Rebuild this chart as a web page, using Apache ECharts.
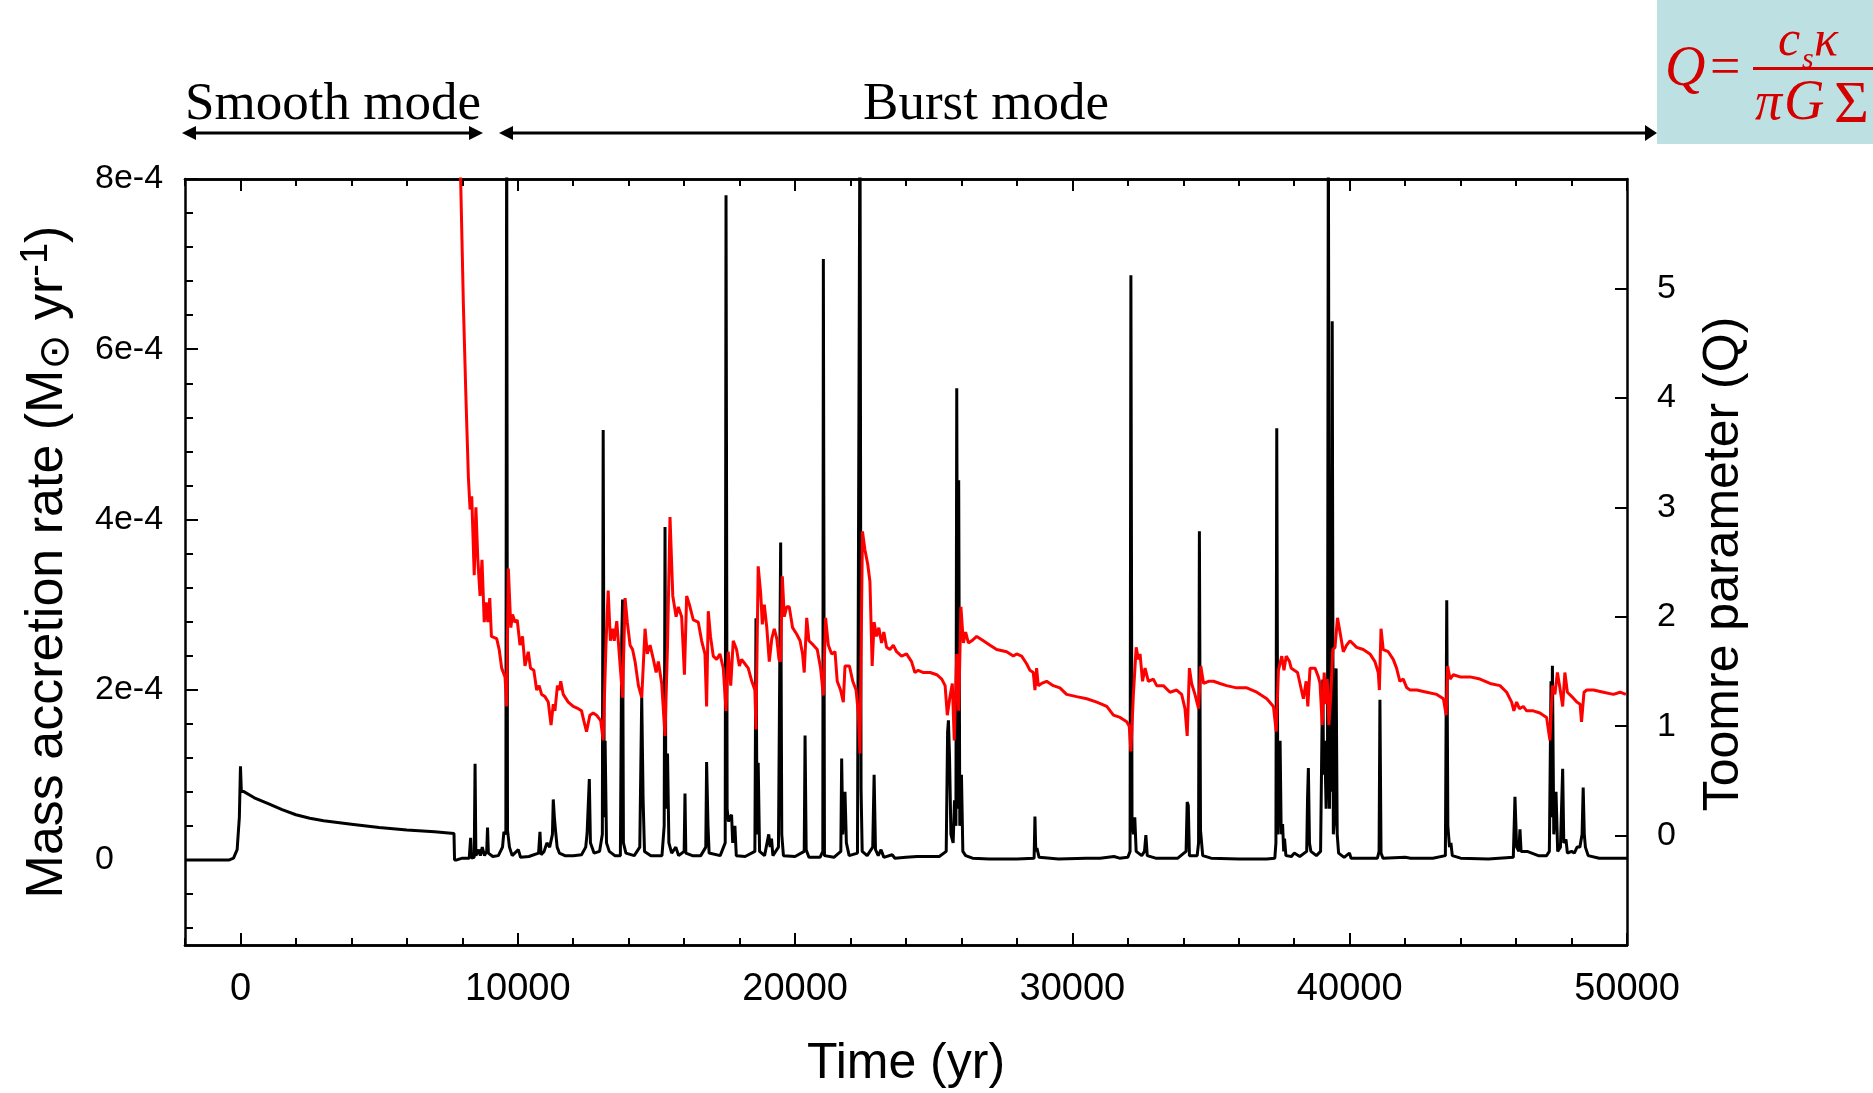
<!DOCTYPE html>
<html>
<head>
<meta charset="utf-8">
<script src="https://cdn.jsdelivr.net/npm/echarts@6/dist/echarts.min.js"></script>
<style>
html,body{margin:0;padding:0;background:#fff;}
#c{width:1873px;height:1093px;}
</style>
</head>
<body>
<div id="c"></div>
<script>
// ---- DATA ----
// Time in years; mass accretion rate in units of 1e-4 Msun/yr
const smoothTime = [-2000, -400, -250, -120, -40, 0, 30, 100, 500, 1000, 1500, 2000, 2500, 3000, 4000, 5000, 6000, 7000, 7700];
const smoothRate = [0, 0, 0.02, 0.12, 0.5, 1.1, 0.82, 0.8, 0.73, 0.66, 0.59, 0.53, 0.49, 0.46, 0.42, 0.38, 0.35, 0.33, 0.31];

const burstTime = [7720,7800,8000,8250,8300,8330,8430,8460,8490,8600,8650,8720,8800,8880,8910,8940,9100,9300,9450,9500,9570,9600,9630,9700,9800,
10020,10100,10400,10750,10800,10840,10950,11050,11150,11250,11280,11320,11360,11420,11500,11700,12000,12300,12450,12500,12580,12620,12750,12950,
13050,13080,13120,13150,13200,13300,13500,13700,13750,13780,13810,13900,14200,14400,14470,14520,14570,14800,15200,15280,15310,15340,15400,
15450,15550,15700,15800,16000,16030,16060,16300,16600,16780,16810,16860,16900,17300,17480,17510,17550,17600,17650,17710,17750,17830,17880,
18200,18550,18590,18630,18670,18720,18900,19050,19100,19150,19200,19400,19480,19520,19580,20000,20330,20360,20400,20500,20900,21000,21020,
21060,21400,21650,21680,21720,21800,21850,21950,22250,22340,22380,22420,22600,22800,22850,22900,23000,23100,23200,23500,23600,24000,24400,
25200,25450,25500,25530,25570,25620,25700,25750,25800,25830,25870,25900,25940,26000,26050,26150,26400,27000,28000,28620,28650,28680,28720,
28800,29500,30500,31000,31500,31700,32000,32080,32110,32150,32200,32250,32300,32500,32600,32650,32700,33000,33800,34100,34140,34180,34220,
34500,34550,34580,34620,34700,35000,36000,37000,37300,37340,37370,37410,37490,37530,37580,37620,37650,37700,37900,38000,38200,38450,38480,
38510,38550,38600,38800,38950,39000,39030,39060,39100,39150,39200,39230,39270,39300,39340,39370,39410,39460,39510,39550,39600,39800,39990,
40050,40500,41000,41060,41090,41130,41200,42000,42200,43000,43450,43500,43540,43600,43650,43700,44000,45000,45900,45960,46020,46100,46140,
46180,46400,46800,47100,47200,47260,47280,47310,47360,47440,47500,47600,47680,47720,47800,47850,48000,48100,48200,48300,48380,48420,48460,
48500,48600,49000,50000];
const burstRate = [0,0,0.02,0.02,0.26,0.02,0.03,1.13,0.05,0.12,0.05,0.15,0.05,0.1,0.38,0.08,0.04,0.05,0.15,0.33,0.3,9,0.35,0.15,0.05,
0.12,0.03,0.04,0.08,0.33,0.06,0.1,0.2,0.15,0.3,0.71,0.5,0.35,0.15,0.08,0.05,0.05,0.06,0.15,0.31,0.95,0.2,0.08,0.1,
0.3,5.05,0.5,1.4,0.2,0.1,0.05,0.05,2.6,3.06,0.2,0.08,0.05,0.15,1.91,0.71,0.1,0.05,0.05,0.4,3.91,0.6,1.25,
0.2,0.08,0.15,0.05,0.1,0.78,0.08,0.05,0.05,0.15,1.15,0.4,0.08,0.05,0.2,7.81,0.6,0.45,0.5,0.53,0.2,0.4,0.05,
0.04,0.1,2.84,0.3,1.14,0.1,0.05,0.3,0.15,0.25,0.05,0.15,3.73,0.3,0.05,0.04,0.1,1.46,0.12,0.03,0.03,0.1,7.06,
0.05,0.03,0.1,1.19,0.3,0.8,0.2,0.05,0.08,9,0.82,0.1,0.05,0.15,1.0,0.12,0.05,0.12,0.03,0.06,0.02,0.03,0.04,
0.04,0.1,1.5,1.64,1.2,0.3,0.2,0.7,0.4,5.54,0.6,4.46,0.4,1.0,0.1,0.05,0.02,0.01,0.01,0.02,0.51,0.1,0.14,
0.03,0.01,0.02,0.02,0.04,0.02,0.03,0.1,6.87,0.5,0.3,0.5,0.1,0.05,0.1,0.29,0.05,0.02,0.02,0.1,0.68,0.64,0.05,
0.05,0.2,3.86,0.35,0.05,0.02,0.01,0.01,0.02,0.2,5.07,0.3,1.4,0.3,0.42,0.1,0.25,0.05,0.04,0.08,0.04,0.1,0.72,
1.08,0.2,0.1,0.05,0.1,1.5,2.12,1.0,1.4,0.6,1.2,9,0.6,1.6,0.8,6.33,0.3,0.5,2.25,0.3,0.08,0.03,0.08,
0.02,0.02,0.02,0.1,1.88,0.08,0.02,0.03,0.02,0.02,0.05,3.05,0.4,0.15,0.2,0.05,0.02,0.01,0.03,0.74,0.15,0.1,0.36,
0.1,0.1,0.05,0.05,0.1,2.1,0.5,2.28,0.3,0.8,0.1,0.15,1.07,0.2,0.24,0.08,0.1,0.08,0.15,0.15,0.3,0.85,0.3,
0.15,0.05,0.02,0.02];

// Toomre parameter Q
const qTime = [7900,7940,8040,8130,8220,8280,8340,8430,8490,8560,8640,8710,8790,8860,8920,8990,9050,9240,9330,9420,9540,9600,9660,9750,9810,9900,9980,
10080,10170,10260,10380,10460,10580,10680,10770,10860,10980,11100,11200,11280,11340,11430,11500,11550,11640,11820,12000,12180,12300,12380,12480,
12600,12720,12840,12990,13080,13180,13260,13340,13420,13480,13570,13660,13780,13870,13950,14050,14140,14230,14350,14470,14590,14670,14770,14890,
14990,15070,15190,15310,15400,15490,15590,15710,15790,15910,16010,16090,16190,16330,16510,16630,16750,16810,16870,16950,17050,17170,17290,17410,
17510,17590,17680,17770,17890,17990,18070,18190,18310,18440,18550,18590,18670,18760,18820,18890,18980,19070,19160,19250,19340,19420,19480,19540,
19610,19700,19790,19910,20060,20180,20270,20330,20420,20500,20660,20800,20920,21020,21100,21200,21320,21440,21520,21640,21740,21800,21960,22080,
22200,22280,22340,22430,22520,22620,22700,22780,22850,22940,23020,23120,23200,23300,23420,23540,23660,23840,24020,24200,24320,24440,24630,24870,
25110,25290,25410,25490,25580,25670,25740,25830,25900,25980,26070,26150,26250,26370,26550,26790,27030,27270,27630,27870,27990,28170,28350,28470,
28590,28650,28710,28770,28890,29070,29310,29550,29790,30150,30520,30880,31240,31480,31720,31960,32050,32110,32200,32300,32380,32440,32530,32620,
32740,32920,33040,33280,33520,33760,33940,34060,34140,34220,34300,34420,34550,34630,34730,34910,35090,35320,35560,35920,36290,36650,37010,37250,
37350,37430,37550,37630,37710,37830,37890,38000,38120,38330,38430,38490,38570,38750,38870,38930,39010,39080,39140,39190,39250,39320,39390,39470,
39560,39650,39770,39890,40010,40250,40490,40730,40910,41030,41070,41130,41210,41390,41570,41690,41810,41930,42060,42180,42420,42780,43140,43380,
43480,43530,43620,43740,43980,44340,44700,45060,45420,45660,45840,45920,46020,46120,46260,46380,46620,46860,47100,47220,47310,47400,47490,47580,
47680,47760,47850,48010,48190,48310,48360,48450,48550,48790,49150,49510,49750,49960];
const qValue = [6.6,6.0,4.84,4.01,3.27,2.98,3.10,2.38,3.0,2.52,2.19,2.52,1.95,2.13,1.95,2.17,1.82,1.80,1.70,1.53,1.45,1.18,2.44,1.90,2.02,1.95,1.97,
1.74,1.82,1.55,1.68,1.53,1.51,1.33,1.37,1.29,1.27,1.22,1.01,1.20,1.14,1.37,1.33,1.41,1.29,1.22,1.18,1.16,1.14,1.05,0.95,
1.10,1.12,1.10,1.05,0.87,1.74,2.24,1.78,1.89,1.78,1.96,1.66,1.26,2.17,1.95,1.74,1.70,1.59,1.37,1.26,1.89,1.66,1.74,1.61,
1.49,1.59,1.39,0.91,1.74,2.91,2.19,2.0,2.09,2.0,1.47,2.19,2.11,1.97,1.95,1.78,1.66,1.18,2.05,1.82,1.64,1.61,1.66,1.53,
1.14,1.68,1.37,1.78,1.70,1.55,1.61,1.57,1.53,1.41,1.33,0.97,2.46,2.21,1.93,2.11,1.90,1.59,1.80,1.89,1.80,1.61,1.59,2.37,
2.0,2.09,2.09,1.90,1.84,1.78,1.66,1.49,1.99,1.78,1.74,1.70,1.53,1.28,1.99,1.74,1.66,1.68,1.41,1.33,1.22,1.55,1.55,1.41,
1.33,1.12,0.75,2.78,2.61,2.48,2.32,1.55,1.95,1.82,1.90,1.76,1.86,1.72,1.70,1.74,1.68,1.64,1.66,1.59,1.49,1.51,1.49,1.49,
1.47,1.43,1.37,1.10,1.26,1.39,0.87,1.66,1.14,2.09,1.76,1.86,1.76,1.78,1.82,1.78,1.74,1.70,1.68,1.64,1.66,1.64,1.57,1.51,
1.49,1.33,1.53,1.37,1.39,1.41,1.37,1.35,1.29,1.27,1.25,1.22,1.18,1.10,1.08,1.04,1.0,0.77,1.29,1.72,1.61,1.66,1.41,1.53,
1.41,1.43,1.37,1.37,1.31,1.33,1.29,1.16,0.91,1.53,1.39,1.29,1.16,1.55,1.39,1.41,1.41,1.39,1.37,1.35,1.35,1.31,1.25,1.18,
0.95,1.51,1.64,1.51,1.64,1.59,1.53,1.51,1.49,1.25,1.41,1.18,1.53,1.53,1.45,1.39,1.01,1.49,1.20,1.43,1.01,1.29,1.70,1.72,
1.99,1.86,1.68,1.74,1.78,1.72,1.70,1.66,1.59,1.49,1.33,1.89,1.70,1.68,1.61,1.53,1.41,1.43,1.35,1.33,1.33,1.31,1.29,1.25,
1.10,1.55,1.43,1.47,1.45,1.45,1.43,1.39,1.37,1.31,1.22,1.14,1.22,1.16,1.18,1.14,1.14,1.12,1.08,0.87,1.37,1.29,1.49,1.35,
1.18,1.49,1.31,1.27,1.22,1.20,1.04,1.31,1.33,1.33,1.31,1.29,1.31,1.29];

// Tick values
const xLabelTicks = [0, 10000, 20000, 30000, 40000, 50000];
const xMinorTicks = [];
for (let v = -2000; v <= 50000; v += 2000) xMinorTicks.push(v);
const yLabelTicks = [0, 2, 4, 6, 8];          // units of 1e-4
const yMinorTicks = [];
for (let k = -2; k <= 20; k++) yMinorTicks.push(+(k * 0.4).toFixed(2));
const qLabelTicks = [0, 1, 2, 3, 4, 5];

// ---- BUILD ----
const zip = (a, b) => a.map((v, i) => [v, b[i]]);
const rateData = zip(smoothTime, smoothRate).concat(zip(burstTime, burstRate));
const qData = zip(qTime, qValue);

const SANS = '"Liberation Sans", Arial, sans-serif';
const SERIF = '"Liberation Serif", "Times New Roman", serif';
const black = '#000';
const fRed = '#D40000';

function xAx(pos, ticks, len, labels) {
  return {
    type: 'value', min: -2000, max: 50000, position: pos,
    axisLine: { show: true, onZero: false, lineStyle: { color: black, width: 2.5 } },
    axisTick: { show: true, inside: true, length: len, customValues: ticks, lineStyle: { color: black, width: 2 } },
    axisLabel: labels ? { show: true, customValues: xLabelTicks, formatter: v => String(v),
      fontSize: 38, fontFamily: SANS, color: black, margin: 26 } : { show: false },
    splitLine: { show: false }
  };
}

function ftxt(x, y, t, font) {
  return { type: 'text', x: x, y: y, z: 11, style: { text: t, font: font, fill: fRed,
    align: 'left', verticalAlign: 'middle', textAlign: 'left', textVerticalAlign: 'middle' } };
}

const option = {
  animation: false,
  backgroundColor: '#fff',
  grid: { left: 185, right: 246, top: 179, bottom: 148, containLabel: false },
  xAxis: [
    xAx('bottom', xLabelTicks, 12, true),
    xAx('bottom', xMinorTicks, 7, false),
    xAx('top', xLabelTicks, 12, false),
    xAx('top', xMinorTicks, 7, false)
  ],
  yAxis: [
    { type: 'value', min: -1, max: 8, position: 'left',
      axisLine: { show: true, onZero: false, lineStyle: { color: black, width: 2.5 } },
      axisTick: { show: true, inside: true, length: 13, customValues: yLabelTicks, lineStyle: { color: black, width: 2 } },
      axisLabel: { show: true, customValues: yLabelTicks, formatter: v => (v === 0 ? '0' : v + 'e-4'),
        align: 'left', margin: 90, fontSize: 34, fontFamily: SANS, color: black },
      splitLine: { show: false } },
    { type: 'value', min: -1, max: 8, position: 'left',
      axisLine: { show: false, onZero: false },
      axisTick: { show: true, inside: true, length: 8, customValues: yMinorTicks, lineStyle: { color: black, width: 2 } },
      axisLabel: { show: false }, splitLine: { show: false } },
    { type: 'value', min: -1, max: 6, position: 'right',
      axisLine: { show: true, onZero: false, lineStyle: { color: black, width: 2.5 } },
      axisTick: { show: true, inside: true, length: 12, customValues: qLabelTicks, lineStyle: { color: black, width: 2 } },
      axisLabel: { show: true, customValues: qLabelTicks, formatter: v => String(v),
        margin: 30, fontSize: 34, fontFamily: SANS, color: black },
      splitLine: { show: false } }
  ],
  series: [
    { name: 'Mass accretion rate', type: 'line', xAxisIndex: 0, yAxisIndex: 0, data: rateData,
      showSymbol: false, symbol: 'none', clip: true, z: 2,
      lineStyle: { color: black, width: 3 } },
    { name: 'Toomre Q', type: 'line', xAxisIndex: 0, yAxisIndex: 2, data: qData,
      showSymbol: false, symbol: 'none', clip: true, z: 3,
      lineStyle: { color: '#ff0000', width: 3 } }
  ],
  graphic: [
    // axis titles
    { type: 'text', x: 48, y: 562, rotation: Math.PI / 2, z: 10,
      style: { text: 'Mass accretion rate (M{sun|\u2299} yr{sup|-1})', align: 'center', verticalAlign: 'middle',
        textAlign: 'center', textVerticalAlign: 'middle',
        font: '52px ' + SANS, fill: black,
        rich: {
          sun: { fontSize: 42, fontFamily: 'DejaVu Sans', verticalAlign: 'bottom', lineHeight: 60, fill: black },
          sup: { fontSize: 38, fontFamily: SANS, verticalAlign: 'top', lineHeight: 60, fill: black }
        } } },
    { type: 'text', x: 1724, y: 564, rotation: Math.PI / 2, z: 10,
      style: { text: 'Toomre parameter (Q)', align: 'center', verticalAlign: 'middle',
        textAlign: 'center', textVerticalAlign: 'middle', font: '50px ' + SANS, fill: black } },
    { type: 'text', x: 906, y: 1064, z: 10,
      style: { text: 'Time (yr)', align: 'center', verticalAlign: 'middle',
        textAlign: 'center', textVerticalAlign: 'middle', font: '50px ' + SANS, fill: black } },
    // mode labels
    { type: 'text', x: 333, y: 105, z: 10,
      style: { text: 'Smooth mode', align: 'center', verticalAlign: 'middle',
        textAlign: 'center', textVerticalAlign: 'middle', font: '53px ' + SERIF, fill: black } },
    { type: 'text', x: 986, y: 105, z: 10,
      style: { text: 'Burst mode', align: 'center', verticalAlign: 'middle',
        textAlign: 'center', textVerticalAlign: 'middle', font: '53px ' + SERIF, fill: black } },
    // arrows
    { type: 'line', z: 10, shape: { x1: 190, y1: 133, x2: 475, y2: 133 }, style: { stroke: black, lineWidth: 3 } },
    { type: 'polygon', z: 10, shape: { points: [[182, 133], [196, 126], [196, 140]] }, style: { fill: black } },
    { type: 'polygon', z: 10, shape: { points: [[483, 133], [469, 126], [469, 140]] }, style: { fill: black } },
    { type: 'line', z: 10, shape: { x1: 507, y1: 133, x2: 1649, y2: 133 }, style: { stroke: black, lineWidth: 3 } },
    { type: 'polygon', z: 10, shape: { points: [[499, 133], [513, 126], [513, 140]] }, style: { fill: black } },
    { type: 'polygon', z: 10, shape: { points: [[1657, 133], [1645, 125], [1645, 141]] }, style: { fill: black } },
    // formula box
    { type: 'rect', z: 9, shape: { x: 1657, y: 0, width: 216, height: 144 }, style: { fill: '#BDE1E3' } },
    ftxt(1665, 70, 'Q', 'italic 56px ' + SERIF),
    ftxt(1710, 70, '=', '54px ' + SERIF),
    { type: 'rect', z: 11, shape: { x: 1753, y: 67, width: 130, height: 3 }, style: { fill: fRed } },
    ftxt(1778, 42, 'c', 'italic 50px ' + SERIF),
    ftxt(1802, 60, 's', 'italic 30px ' + SERIF),
    ftxt(1814, 42, '\u03BA', 'italic 50px ' + SERIF),
    ftxt(1755, 105, '\u03C0', 'italic 54px ' + SERIF),
    ftxt(1784, 104, 'G', 'italic 56px ' + SERIF),
    ftxt(1834, 106, '\u03A3', '60px ' + SERIF)
  ]
};

const chart = echarts.init(document.getElementById('c'), null, { renderer: 'canvas', width: 1873, height: 1093 });
chart.setOption(option);
</script>
</body>
</html>
